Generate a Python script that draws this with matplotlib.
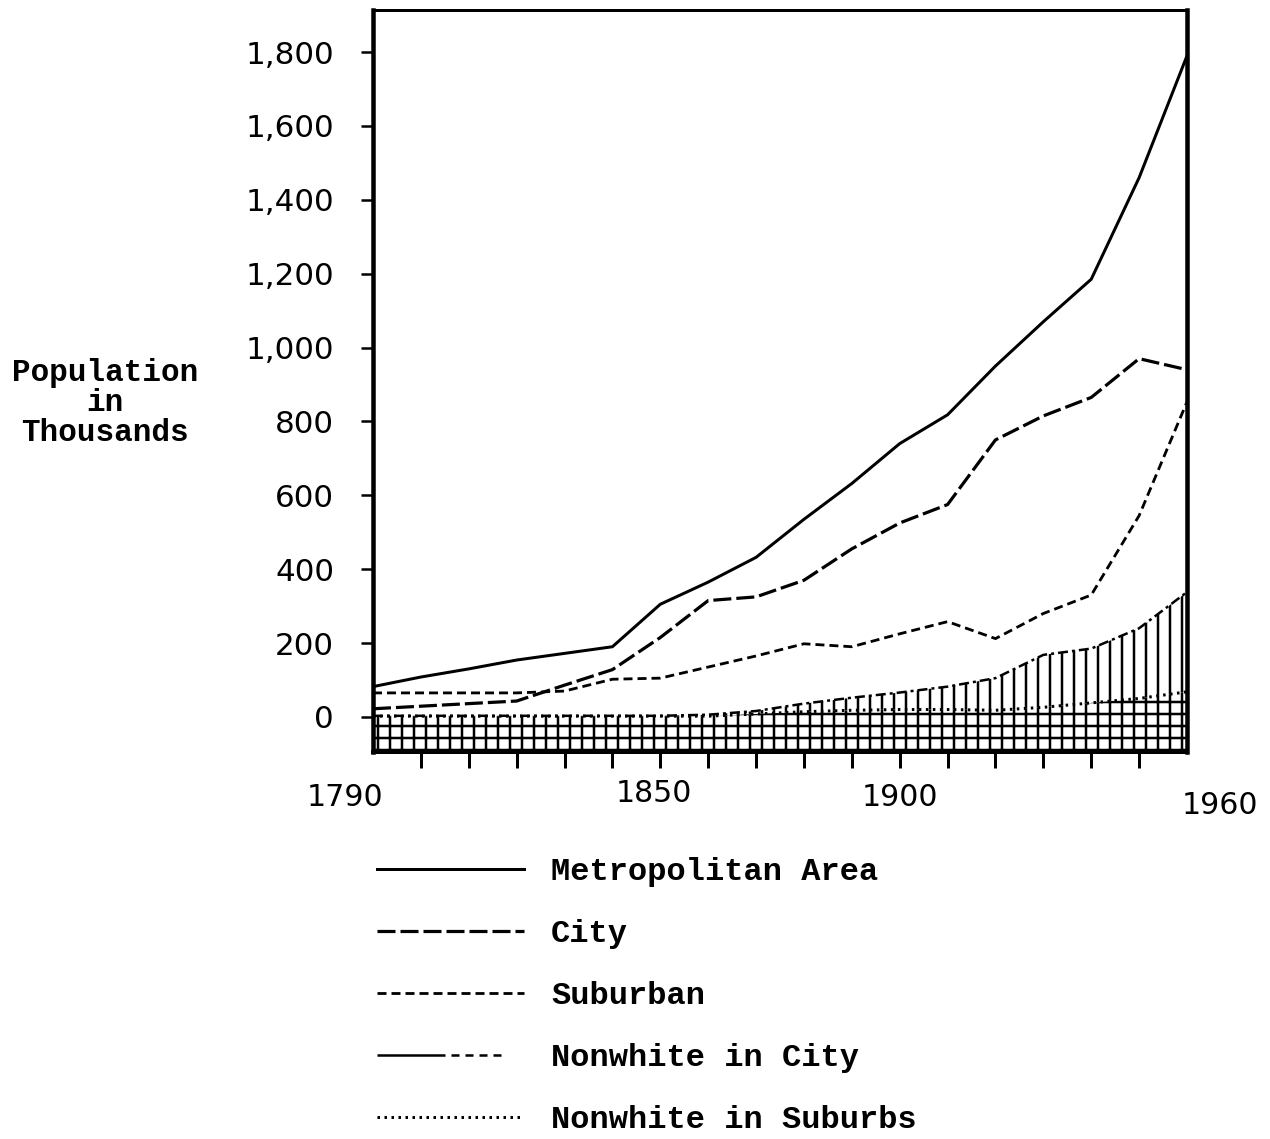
import numpy as np
import matplotlib.pyplot as plt

# population in thousands, census years
years = list(range(1790, 1961, 10))
metro = [82, 108, 130, 154, 172, 190, 305, 365, 432, 535, 632, 740, 818, 950, 1070, 1185, 1460, 1790]
city = [22, 29, 36, 43, 86, 128, 215, 315, 325, 370, 455, 525, 575, 750, 815, 865, 970, 940]
suburban = [65, 65, 65, 65, 70, 102, 105, 135, 165, 198, 190, 225, 258, 212, 280, 330, 545, 853]
nw_city = [3, 3, 3, 3, 3, 3, 3, 6, 16, 36, 52, 66, 82, 105, 168, 185, 240, 338]
nw_sub = [2, 2, 2, 2, 2, 2, 2, 2, 8, 14, 18, 20, 20, 18, 26, 38, 50, 68]

labels = ["Metropolitan Area", "City", "Suburban", "Nonwhite in City", "Nonwhite in Suburbs"]
year_labels = [1790, 1850, 1900, 1960]

DPI = 72
plt.rcParams['hatch.linewidth'] = 2.5
plt.rcParams['hatch.color'] = 'black'
plt.rcParams['lines.scale_dashes'] = False

W, H = 1270, 1139
fig = plt.figure(figsize=(W / DPI, H / DPI), dpi=DPI)
ax = fig.add_axes([373 / W, 1 - 752 / H, (1187 - 373) / W, (752 - 10) / H])
ymin, ymax = -95, 1914
ax.set_xlim(1790, 1960)
ax.set_ylim(ymin, ymax)

# cross-hatched base and vertical hatching for the nonwhite city population
ax.fill_between(years, ymin, nw_sub, facecolor='white', edgecolor='black', linewidth=0, hatch='+', zorder=1)
ax.fill_between(years, nw_sub, nw_city, facecolor='none', edgecolor='black', linewidth=0, hatch='|', zorder=1)

ax.plot(years, metro, color='black', lw=3, label=labels[0], zorder=3)
ax.plot(years, city, color='black', lw=3.2, dashes=(18, 5), label=labels[1], zorder=3)
ax.plot(years, suburban, color='black', lw=2.8, dashes=(9, 5), label=labels[2], zorder=3)
ax.plot(years, nw_city, color='black', lw=2.5, dashes=(10, 4, 3, 4), label=labels[3], zorder=3)
ax.plot(years, nw_sub, color='black', lw=3, dashes=(2.5, 4.5), label=labels[4], zorder=3)

# axes frame
ax.spines['left'].set_linewidth(4.5)
ax.spines['right'].set_linewidth(4.5)
ax.spines['top'].set_linewidth(3)
ax.spines['bottom'].set_linewidth(4)

yt = list(range(0, 1801, 200))
ax.set_yticks(yt)
ax.set_yticklabels([f"{v:,}" for v in yt], family='DejaVu Sans', fontsize=31)
ax.tick_params(axis='y', direction='out', length=12, width=2.5, pad=27)

ax.set_xticks(list(range(1800, 1951, 10)))
ax.tick_params(axis='x', direction='out', length=16, width=3, labelbottom=False)

offsets = {1790: (-28, -45), 1850: (-6, -41), 1900: (0, -45), 1960: (33, -54)}
for yr in year_labels:
    ax.annotate(str(yr), xy=(yr, 0), xycoords=('data', 'axes fraction'),
                xytext=offsets[yr], textcoords='offset points',
                ha='center', va='center', fontsize=30, family='DejaVu Sans')

fig.text(105 / W, 1 - 403 / H, "Population\nin\nThousands", ha='center', va='center',
         multialignment='center', fontsize=31, family='Liberation Mono', weight='bold',
         linespacing=0.98)

leg = fig.legend(loc='upper left', bbox_to_anchor=(377 / W, 1 - 857 / H), frameon=False,
                 prop={'family': 'Liberation Mono', 'weight': 'bold', 'size': 32},
                 handlelength=4.6, handletextpad=0.84, labelspacing=1.0,
                 borderpad=0, borderaxespad=0)
# the key for nonwhite city is drawn as a long stroke followed by short dashes
leg.get_lines()[3].set_dashes((68, 6, 8, 6, 8, 6, 8, 6, 8, 60))

fig.savefig("out.png", dpi=DPI, facecolor='white')
